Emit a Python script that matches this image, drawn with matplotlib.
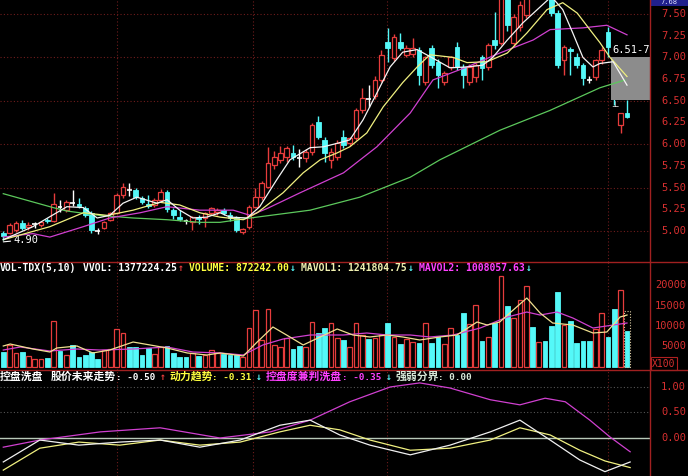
import matplotlib
matplotlib.use("Agg")
import matplotlib.pyplot as plt
from matplotlib.patches import Rectangle
from matplotlib.lines import Line2D
from matplotlib.transforms import blended_transform_factory

plt.rcParams['font.family'] = ['Noto Sans CJK SC', 'DejaVu Sans']

W, H = 688, 476

# daily candles
opens = [4.98, 4.98, 5.01, 5.09, 5.05, 5.08, 5.07, 5.13, 5.12, 5.28,
         5.24, 5.32, 5.31, 5.26, 5.21, 5.00, 5.04, 5.13, 5.21, 5.41,
         5.47, 5.47, 5.38, 5.31, 5.30, 5.36, 5.45, 5.24, 5.16, 5.11,
         5.10, 5.16, 5.15, 5.21, 5.22, 5.24, 5.18, 5.15, 4.99, 5.05,
         5.28, 5.39, 5.51, 5.76, 5.82, 5.85, 5.90, 5.84, 5.84, 5.91,
         6.25, 6.05, 5.82, 5.85, 6.08, 6.01, 6.07, 6.39, 6.52, 6.55,
         6.74, 7.18, 6.99, 7.18, 7.03, 7.04, 7.09, 6.72, 7.11, 6.95,
         6.72, 6.89, 7.12, 6.89, 6.72, 6.77, 7.00, 6.89, 7.20, 7.17,
         7.72, 7.17, 7.35, 7.49, 7.85, 7.75, 7.95, 7.80, 7.51, 6.97,
         7.10, 7.01, 6.91, 6.74, 6.77, 6.97, 7.29, 6.95, 6.22, 6.36]
highs = [5.00, 5.09, 5.11, 5.13, 5.10, 5.10, 5.11, 5.15, 5.44, 5.36,
         5.36, 5.47, 5.38, 5.29, 5.23, 5.04, 5.12, 5.22, 5.44, 5.55,
         5.55, 5.49, 5.40, 5.42, 5.38, 5.48, 5.47, 5.27, 5.24, 5.14,
         5.17, 5.18, 5.22, 5.28, 5.27, 5.27, 5.22, 5.17, 5.03, 5.30,
         5.50, 5.58, 5.97, 5.92, 5.98, 5.98, 5.99, 5.94, 5.94, 6.24,
         6.32, 6.08, 5.96, 6.05, 6.16, 6.08, 6.42, 6.65, 6.68, 6.78,
         7.08, 7.34, 7.27, 7.28, 7.14, 7.22, 7.12, 7.02, 7.14, 6.98,
         6.84, 7.02, 7.18, 6.92, 6.92, 6.94, 7.03, 7.16, 7.52, 7.72,
         7.78, 7.50, 7.65, 7.80, 7.95, 7.98, 8.00, 7.85, 7.55, 7.14,
         7.12, 7.05, 6.93, 6.78, 6.98, 7.12, 7.35, 7.00, 6.36, 6.51]
lows = [4.90, 4.96, 4.99, 5.01, 5.01, 5.04, 5.05, 5.09, 5.10, 5.22,
        5.22, 5.29, 5.26, 5.16, 4.98, 4.96, 5.02, 5.12, 5.20, 5.38,
        5.40, 5.37, 5.31, 5.27, 5.28, 5.34, 5.22, 5.14, 5.12, 5.08,
        5.01, 5.08, 5.05, 5.19, 5.19, 5.18, 5.12, 4.99, 4.96, 5.02,
        5.26, 5.36, 5.49, 5.72, 5.78, 5.80, 5.82, 5.74, 5.80, 5.88,
        6.06, 5.80, 5.73, 5.82, 5.96, 5.98, 6.05, 6.36, 6.43, 6.52,
        6.72, 6.95, 6.96, 7.08, 7.00, 7.00, 6.68, 6.68, 6.88, 6.65,
        6.68, 6.86, 6.85, 6.65, 6.68, 6.72, 6.74, 6.86, 7.10, 7.14,
        7.30, 7.12, 7.30, 7.45, 7.70, 7.72, 7.78, 7.48, 6.88, 6.80,
        6.80, 6.88, 6.68, 6.70, 6.74, 6.92, 7.00, 6.45, 6.13, 6.30]
closes = [4.94, 5.07, 5.09, 5.03, 5.07, 5.08, 5.10, 5.11, 5.31, 5.28,
          5.33, 5.32, 5.29, 5.18, 5.01, 5.00, 5.10, 5.21, 5.41, 5.51,
          5.47, 5.39, 5.33, 5.29, 5.36, 5.45, 5.25, 5.18, 5.14, 5.11,
          5.16, 5.14, 5.21, 5.26, 5.24, 5.21, 5.15, 5.01, 5.02, 5.28,
          5.39, 5.55, 5.78, 5.85, 5.90, 5.96, 5.85, 5.84, 5.91, 6.22,
          6.08, 5.90, 5.91, 6.01, 5.99, 6.07, 6.39, 6.53, 6.52, 6.74,
          7.03, 7.11, 7.23, 7.11, 7.11, 7.11, 6.80, 7.00, 6.91, 6.80,
          6.82, 7.00, 6.89, 6.80, 6.89, 6.91, 6.88, 7.14, 7.14, 7.68,
          7.37, 7.47, 7.60, 7.72, 7.75, 7.92, 7.82, 7.51, 6.91, 7.12,
          7.07, 6.91, 6.76, 6.74, 6.97, 7.08, 7.12, 6.52, 6.36, 6.31]
# volume, in units of 100 shares
volumes = [3570, 5300, 3330, 3570, 2580, 1840, 1840, 2090, 11200, 3820,
           2830, 5300, 2340, 2830, 3570, 1840, 4060, 4310, 9240, 8250,
           4800, 4800, 2830, 4560, 3080, 4800, 5050, 3330, 2340, 2340,
           3330, 2580, 2830, 4060, 3330, 3080, 2830, 2830, 2340, 9480,
           13900, 6530, 14160, 5300, 4800, 7020, 4310, 5050, 4800, 10960,
           8250, 9480, 10710, 7020, 6530, 4800, 10710, 7760, 6770, 7020,
           7760, 10710, 7270, 5540, 6770, 6040, 5900, 10710, 5790, 7270,
           5540, 9480, 7760, 13170, 10470, 15140, 6280, 7270, 10710, 22300,
           14900, 11950, 16400, 19830, 9730, 6040, 6280, 9980, 18350, 10220,
           11200, 5790, 6280, 6280, 9240, 13170, 7270, 14160, 18840, 8740]
vvol_last = 13772

# price moving averages, read at sample days
ma5_day = [0, 4.7, 10.1, 12.7, 14.9, 16.9, 19, 21.2, 24.4, 26, 28, 30.1, 32.3, 34.4, 36, 38.7,
           40.7, 43.4, 45.5, 48.7, 50.8, 53, 55, 57.1, 59.3, 61.4, 63.4, 65.7, 68.2, 70.9,
           73.6, 76.1, 77.7, 80, 82.5, 85.2, 87, 88.8, 90.4, 92, 93.6, 94.7, 96.8, 99]
ma5_val = [4.90, 5.05, 5.28, 5.27, 5.15, 5.18, 5.32, 5.39, 5.32, 5.36, 5.24, 5.15, 5.16, 5.21, 5.16, 5.15,
           5.28, 5.59, 5.82, 5.96, 5.97, 6.01, 6.05, 6.28, 6.59, 6.89, 7.06, 7.09, 6.99, 6.88,
           6.89, 6.91, 7.00, 7.20, 7.40, 7.58, 7.70, 7.55, 7.28, 7.00, 6.89, 6.93, 6.95, 6.68]
ma10_day = [0, 7.4, 12.7, 16.5, 20.6, 24.9, 28, 31.2, 34.4, 38.1, 40.3, 44.4, 47.6, 50.3, 53, 55,
            57.7, 60.3, 63.4, 65.7, 67.7, 71.4, 73.6, 76.8, 80, 83.1, 86.3, 88.8, 91.1, 93.1,
            94.7, 96.3, 99]
ma10_val = [4.90, 5.05, 5.21, 5.18, 5.24, 5.33, 5.30, 5.21, 5.16, 5.13, 5.21, 5.44, 5.67, 5.82, 5.90, 5.97,
            6.13, 6.43, 6.71, 6.89, 7.03, 7.00, 6.94, 6.95, 7.05, 7.28, 7.55, 7.63, 7.51, 7.32,
            7.17, 7.00, 6.78]
ma30_day = [0, 4.7, 7.4, 12.7, 16.9, 21.7, 26, 31.2, 36.5, 39.2, 41.9, 47.1, 54, 59.3, 64.6, 68.2,
            73.6, 78.8, 84.1, 86.8, 92, 95.8, 99]
ma30_val = [4.93, 4.97, 4.93, 5.05, 5.15, 5.21, 5.28, 5.24, 5.24, 5.18, 5.26, 5.44, 5.67, 5.97, 6.36, 6.74,
            6.89, 7.05, 7.20, 7.32, 7.34, 7.37, 7.26]
ma60_day = [0, 7.9, 10.1, 15.3, 20.6, 26, 31.2, 34.4, 39.2, 48.7, 56.6, 64.6, 69.3, 78.8, 86.8, 94.7, 98.7]
ma60_val = [5.43, 5.27, 5.23, 5.18, 5.15, 5.13, 5.10, 5.10, 5.15, 5.24, 5.39, 5.62, 5.82, 6.16, 6.39, 6.65, 6.74]

# volume moving averages
mavol1_day = [0, 1.1, 4.7, 7.4, 8.5, 11.7, 14.2, 16.9, 20.6, 23.3, 26, 29.2, 32.3, 34.4, 38.1, 40.3,
              42.8, 45.5, 47.6, 50.3, 53, 55.5, 58.2, 60.9, 63.4, 66.1, 69.3, 72, 75.2, 76.8,
              78.8, 80.4, 83.1, 85.2, 87.2, 90.4, 93.6, 95.8, 97.9, 99]
mavol1_val = [5050, 5540, 4310, 3570, 4560, 5050, 3330, 4060, 6030, 5300, 4560, 3330, 2830, 3330, 2590, 6030,
              9730, 7270, 5300, 7270, 9240, 7760, 7270, 7760, 7270, 6530, 7270, 7760, 10960, 10220,
              10960, 13180, 16870, 13180, 10710, 10220, 8250, 8500, 12190, 12680]
mavol2_day = [0, 2.7, 7.4, 11.7, 15.3, 20.6, 26, 30.1, 34.4, 38.1, 41.2, 44.4, 48.7, 54, 57.7, 60.9,
              64.6, 67.7, 71.4, 75.7, 80, 83.1, 85.2, 87.9, 90.4, 93.6, 96.8, 99]
mavol2_val = [4060, 4800, 3820, 4310, 4060, 4310, 4800, 3570, 3330, 2830, 5300, 6770, 7760, 7760, 8250, 7760,
              7760, 7270, 7760, 9480, 12190, 13420, 12680, 13420, 11950, 9480, 10220, 10710]

# indicator lines
trend_day = [0, 5.8, 12, 18.5, 24.9, 31.2, 37.6, 43.9, 48.7, 53.4, 58.2, 64.6, 70.9, 77.3, 82, 86.8, 91.5, 95.5, 99.5]
trend_val = [-0.47, -0.04, -0.14, -0.08, -0.04, -0.18, -0.04, 0.25, 0.35, 0.06, -0.14, -0.33, -0.14, 0.12, 0.35, -0.04, -0.43, -0.66, -0.47]
power_day = [0, 5.8, 12, 18.5, 24.9, 31.2, 37.6, 43.9, 48.7, 53.4, 58.2, 64.6, 70.9, 77.3, 82, 86.8, 91.5, 95.5, 99.5]
power_val = [-0.63, -0.20, -0.08, -0.14, -0.04, -0.14, -0.08, 0.12, 0.25, 0.16, -0.04, -0.24, -0.20, -0.04, 0.20, 0.06, -0.24, -0.45, -0.58]
control_day = [0, 5.8, 15.4, 24.9, 34.4, 42.4, 48.7, 55, 61.4, 66.1, 70.9, 77.3, 82, 86, 89.2, 93.1, 96.3, 99.5]
control_val = [-0.18, -0.04, 0.12, 0.20, 0.00, 0.12, 0.35, 0.71, 1.00, 1.08, 0.98, 0.75, 0.65, 0.78, 0.71, 0.35, 0.02, -0.27]

price_ticks = [7.50, 7.25, 7.00, 6.75, 6.50, 6.25, 6.00, 5.75, 5.50, 5.25, 5.00]
vol_ticks = [20000, 15000, 10000, 5000]
ind_ticks = [1.00, 0.50, 0.00]
month_days = [18, 39.6, 60.9, 96]

RED = '#e63c3c'
CYAN = '#54f8f8'
GRID = '#6e1c1c'
MONO = 'DejaVu Sans Mono'

fig = plt.figure(figsize=(W / 100, H / 100), dpi=100, facecolor='black')


def panel(y0, y1, ylim):
    ax = fig.add_axes([0, 1 - y1 / H, 650 / W, (y1 - y0) / H], facecolor='black')
    ax.set_xlim(-0.52, 102.65)
    ax.set_ylim(*ylim)
    ax.set_xticks([])
    ax.set_yticks([])
    for s in ax.spines.values():
        s.set_visible(False)
    for d in month_days:
        ax.axvline(d, color=GRID, lw=0.8, ls=(0, (1, 2)), zorder=0)
    return ax


ax = panel(0, 262, (4.643, 7.661))
axv = panel(262, 370, (-862, 25740))
axi = panel(370, 476, (-0.745, 1.333))

for p in [5.0, 5.5, 6.0, 6.5, 7.0, 7.5]:
    ax.axhline(p, color=GRID, lw=0.8, ls=(0, (1, 2)), zorder=0)
for v in [1.0, 0.5]:
    axi.axhline(v, color='#555555', lw=0.8, ls=(0, (1, 2)), zorder=0)

# candles and volume bars
bw = 0.74
for i in range(len(opens)):
    o, h, l, c = opens[i], highs[i], lows[i], closes[i]
    prev = closes[i - 1] if i else o
    up = c > o or (c == o and c >= prev)
    if c == o:
        ax.vlines(i, l, h, color='white', lw=1, zorder=3)
        ax.hlines(o, i - bw / 2, i + bw / 2, color='white', lw=1.2, zorder=3)
    elif c > o:
        ax.vlines(i, c, h, color=RED, lw=1, zorder=3)
        ax.vlines(i, l, o, color=RED, lw=1, zorder=3)
        ax.add_patch(Rectangle((i - bw / 2, o), bw, c - o, facecolor='black',
                               edgecolor=RED, lw=0.9, zorder=3))
    else:
        ax.vlines(i, l, h, color=CYAN, lw=1, zorder=3)
        ax.add_patch(Rectangle((i - bw / 2, c), bw, o - c, facecolor=CYAN,
                               edgecolor=CYAN, lw=0.6, zorder=3))
    if up:
        axv.add_patch(Rectangle((i - bw / 2, 0), bw, volumes[i], facecolor='black',
                                edgecolor=RED, lw=0.9, zorder=3))
    else:
        axv.add_patch(Rectangle((i - bw / 2, 0), bw, volumes[i], facecolor=CYAN,
                                edgecolor=CYAN, lw=0.6, zorder=3))

last = len(opens) - 1
axv.add_patch(Rectangle((last - bw / 2 - 0.15, 0), bw + 0.3, vvol_last, facecolor='none',
                        edgecolor='#d8c8a0', lw=0.8, ls=(0, (1, 1.5)), zorder=4))

# gap box on the right of the price panel
ax.add_patch(Rectangle((96.5, 6.51), 8, 0.49, facecolor='#8c8c8c', edgecolor='none', zorder=4))
ax.text(96.6, 7.09, '6.51-7.00', color='white', fontsize=7.5, family=MONO,
        va='center', ha='left', zorder=6, clip_on=True)
ax.text(97, 6.46, '⊥', color='white', fontsize=6, family='DejaVu Sans',
        va='center', ha='center', zorder=6)
ax.annotate('4.90', xy=(0, 4.875), xytext=(1.6, 4.90), color='white', fontsize=7.5,
            family=MONO, va='center', ha='left',
            arrowprops=dict(arrowstyle='-', color='white', lw=0.8, shrinkA=0, shrinkB=0))

ax.plot(ma60_day, ma60_val, color='#5cc85c', lw=0.9, zorder=5)
ax.plot(ma30_day, ma30_val, color='#d040d0', lw=0.9, zorder=5)
ax.plot(ma10_day, ma10_val, color='#f0f080', lw=0.9, zorder=5)
ax.plot(ma5_day, ma5_val, color='#f4f4f4', lw=0.9, zorder=5)

axv.plot(mavol2_day, mavol2_val, color='#d040d0', lw=0.9, zorder=5)
axv.plot(mavol1_day, mavol1_val, color='#f0e090', lw=0.9, zorder=5)

axi.axhline(0, color='#b8c8b8', lw=1, zorder=2)
axi.plot(control_day, control_val, color='#d040d0', lw=0.9, zorder=4)
axi.plot(power_day, power_val, color='#f0f080', lw=0.9, zorder=4)
axi.plot(trend_day, trend_val, color='#f0f0f0', lw=0.9, zorder=4)

# right hand scale
for a, ticks, fmt in [(ax, price_ticks, '{:.2f}'), (axv, vol_ticks, '{:d}'), (axi, ind_ticks, '{:.2f}')]:
    tr = blended_transform_factory(a.transAxes, a.transData)
    for t in ticks:
        a.text(686 / 650, t, fmt.format(t), transform=tr, color='#d83030', fontsize=7.5,
               family=MONO, ha='right', va='center', clip_on=False)
axv.text(664 / 650, 0.06, 'X100', transform=axv.transAxes, color='#d83030', fontsize=7,
         family=MONO, ha='center', va='center', clip_on=False,
         bbox=dict(boxstyle='square,pad=0.15', facecolor='black', edgecolor='#b02020', lw=0.8))

# frame lines
for y in [262, 370]:
    fig.add_artist(Line2D([0, 1], [1 - y / H, 1 - y / H], color='#a02020', lw=1, transform=fig.transFigure))
fig.add_artist(Line2D([650 / W, 650 / W], [0, 1], color='#a02020', lw=1, transform=fig.transFigure))
fig.add_artist(Rectangle((651 / W, 1 - 6 / H), 37 / W, 6 / H, facecolor='#20208c',
                         edgecolor='none', transform=fig.transFigure))
fig.text(669 / W, 1 - 2 / H, '7.68', color='#e0e0ff', fontsize=5, family=MONO,
         ha='center', va='center')


# panel titles
def put(x, y, s, color, family=MONO, size=7.0):
    fig.text(x / W, 1 - y / H, s, color=color, fontsize=size, family=family,
             ha='left', va='center', fontweight='bold')


cw = 5.9
vy = 268
put(0, vy, 'VOL-TDX(5,10)', 'white')
put(14 * cw, vy, 'VVOL: 1377224.25', 'white')
put(30.2 * cw, vy, '↑', RED)
put(32 * cw, vy, 'VOLUME: 872242.00', '#ffff40')
put(49.2 * cw, vy, '↓', CYAN)
put(51 * cw, vy, 'MAVOL1: 1241804.75', '#f0f0b0')
put(69.2 * cw, vy, '↓', CYAN)
put(71 * cw, vy, 'MAVOL2: 1008057.63', '#ff40ff')
put(89.2 * cw, vy, '↓', CYAN)

hw = 5.65
iy = 377
cjk = ['Noto Sans CJK SC', 'DejaVu Sans']
put(0, iy, '控盘洗盘', 'white', cjk, 7.8)
put(9 * hw, iy, '股价未来走势', 'white', cjk, 7.8)
put(20.6 * hw, iy, ': -0.50', 'white', MONO, 6.7)
put(28.3 * hw, iy, '↑', RED)
put(30 * hw, iy, '动力趋势', '#ffff40', cjk, 7.8)
put(37.6 * hw, iy, ': -0.31', '#ffff40', MONO, 6.7)
put(45.3 * hw, iy, '↓', CYAN)
put(47 * hw, iy, '控盘度兼判洗盘', '#ff40ff', cjk, 7.8)
put(60.6 * hw, iy, ': -0.35', '#ff40ff', MONO, 6.7)
put(68.3 * hw, iy, '↓', CYAN)
put(70 * hw, iy, '强弱分界', '#d8e8d8', cjk, 7.8)
put(77.6 * hw, iy, ': 0.00', '#d8e8d8', MONO, 6.7)

fig.savefig('out.png', dpi=100, facecolor='black')
